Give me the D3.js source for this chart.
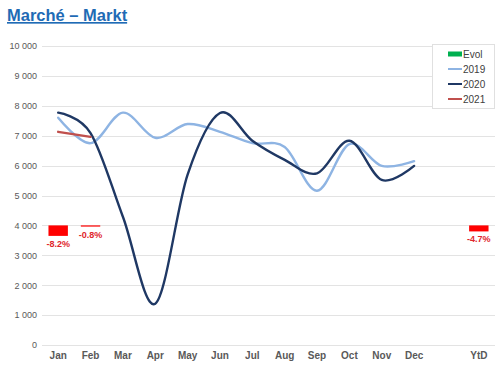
<!DOCTYPE html>
<html>
<head>
<meta charset="utf-8">
<script src="https://cdn.jsdelivr.net/npm/d3@7"></script>
<style>
  body { margin: 0; background: #fff; }
  svg { display: block; font-family: "Liberation Sans", Arial, sans-serif; }
</style>
</head>
<body>
<div id="chart"></div>
<script>
// categories (blank slot before YtD)
const months = ["Jan", "Feb", "Mar", "Apr", "May", "Jun", "Jul", "Aug", "Sep", "Oct", "Nov", "Dec"];
const slots = months.concat(["_gap", "YtD"]);

// monthly values
const v2019 = [7600, 6750, 7770, 6930, 7390, 7130, 6750, 6620, 5160, 6720, 5990, 6150];
const v2020 = [7770, 7090, 4290, 1380, 5700, 7760, 6830, 6190, 5740, 6830, 5520, 5990];
const v2021 = [7130, 6960];

// evolution in %
const evolCats = ["Jan", "Feb", "YtD"];
const evolVals = [-8.2, -0.8, -4.7];

const yTicks = [0, 1000, 2000, 3000, 4000, 5000, 6000, 7000, 8000, 9000, 10000];

const w = 500, h = 369;
const svg = d3.select("#chart").append("svg")
  .attr("width", w)
  .attr("height", h);

// title
svg.append("text")
  .attr("x", 7).attr("y", 21)
  .attr("font-size", 16.5).attr("font-weight", "bold")
  .attr("fill", "#1f6bb5")
  .attr("text-decoration", "underline")
  .text("Marché – Markt");

const x = d3.scaleBand().domain(slots).range([42, 495]);
const y = d3.scaleLinear().domain([0, 10000]).range([345, 46]);
// secondary scale for the evol bars, anchored on the 4000 line
const yEvol = d3.scaleLinear().domain([0, -10]).range([y(4000), y(4000) + 12.8]);

// gridlines
svg.append("g")
  .selectAll("line")
  .data(yTicks)
  .enter()
  .append("line")
  .attr("x1", 42).attr("x2", 495)
  .attr("y1", d => Math.round(y(d)) + 0.5)
  .attr("y2", d => Math.round(y(d)) + 0.5)
  .attr("stroke", "#e3e3e3")
  .attr("stroke-width", 1);

// y axis labels
const yAxis = svg.append("g")
  .attr("transform", "translate(42,0)")
  .call(d3.axisLeft(y).tickValues(yTicks).tickSize(0).tickPadding(5)
    .tickFormat(d => d3.format(",")(d).replace(/,/g, " ")));
yAxis.select(".domain").remove();
yAxis.selectAll("text")
  .attr("font-size", 9)
  .attr("font-family", "Liberation Sans, Arial, sans-serif")
  .attr("fill", "#595959");

// x axis labels
const xAxis = svg.append("g")
  .attr("transform", "translate(0,352)")
  .call(d3.axisBottom(x).tickSize(0).tickPadding(0)
    .tickFormat(d => d === "_gap" ? "" : d));
xAxis.select(".domain").remove();
xAxis.selectAll("text")
  .attr("font-size", 10)
  .attr("font-weight", "bold")
  .attr("font-family", "Liberation Sans, Arial, sans-serif")
  .attr("fill", "#595959");

// evol bars
const barW = x.bandwidth() * 0.6;
svg.selectAll("rect.evol")
  .data(evolVals)
  .enter()
  .append("rect")
  .attr("class", "evol")
  .attr("x", (d, i) => x(evolCats[i]) + (x.bandwidth() - barW) / 2)
  .attr("y", yEvol(0))
  .attr("width", barW)
  .attr("height", d => Math.max(1.2, yEvol(d) - yEvol(0)))
  .attr("fill", "#ff0000");

svg.selectAll("text.evol")
  .data(evolVals)
  .enter()
  .append("text")
  .attr("class", "evol")
  .attr("x", (d, i) => x(evolCats[i]) + x.bandwidth() / 2)
  .attr("y", d => Math.max(yEvol(0) + 1.2, yEvol(d)) + 11)
  .attr("text-anchor", "middle")
  .attr("font-size", 9)
  .attr("font-weight", "bold")
  .attr("fill", "#e0262c")
  .text(d => d.toFixed(1) + "%");

// lines
const line = d3.line()
  .x((d, i) => x(months[i]) + x.bandwidth() / 2)
  .y(d => y(d))
  .curve(d3.curveCardinal.tension(0));

const series = [
  { name: "2019", vals: v2019, color: "#8eb4e3" },
  { name: "2020", vals: v2020, color: "#1f3864" },
  { name: "2021", vals: v2021, color: "#c0504d" }
];

series.forEach(s => {
  svg.append("path")
    .datum(s.vals)
    .attr("d", line)
    .attr("fill", "none")
    .attr("stroke", s.color)
    .attr("stroke-width", 2.4)
    .attr("stroke-linejoin", "round")
    .attr("stroke-linecap", "round");
});

// legend
const lg = svg.append("g").attr("transform", "translate(432,44)");
lg.append("rect")
  .attr("x", 0.5).attr("y", 0.5)
  .attr("width", 62).attr("height", 64)
  .attr("fill", "#fff")
  .attr("stroke", "#e0e0e0");

const legItems = [{ name: "Evol", color: "#00b050", bar: true }].concat(series);
legItems.forEach((d, i) => {
  const ly = 10 + i * 15;
  if (d.bar) {
    lg.append("rect").attr("x", 16).attr("y", ly - 2.5).attr("width", 14).attr("height", 5).attr("fill", d.color);
  } else {
    lg.append("line").attr("x1", 16).attr("x2", 30).attr("y1", ly).attr("y2", ly)
      .attr("stroke", d.color).attr("stroke-width", 2);
  }
  lg.append("text")
    .attr("x", 31).attr("y", ly + 3.5)
    .attr("font-size", 10)
    .attr("fill", "#404040")
    .text(d.name);
});
</script>
</body>
</html>
